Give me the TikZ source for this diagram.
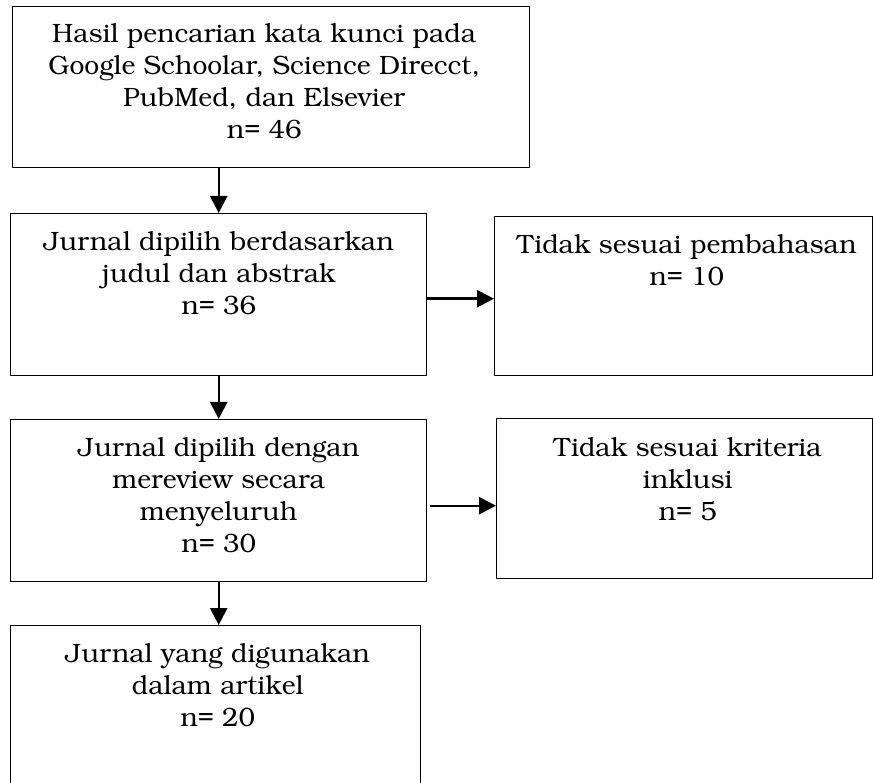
\documentclass[tikz,border=0pt]{standalone}
\usepackage[T1]{fontenc}
\usepackage{bookman}
\usetikzlibrary{
  arrows.meta,
  positioning,  % below=... of ...
}
\tikzset{
  flow box/.style={
    draw,
    line width=1.4pt,
    rectangle,
    anchor=north west,
    inner sep=0pt
  },
  flow text/.style={
    align=center,
    inner sep=0pt,
    font=\fontsize{26.5}{31.8}\selectfont
  },
  flow arrow/.style={
    line width=2.4pt,
    -{Triangle[length=17pt,width=17pt]}
  }
}

\begin{document}
\begin{tikzpicture}[x=1pt,y=-1pt]
\useasboundingbox (0,0) rectangle (873,783);
% boxes
\node[flow box,minimum width=517pt,minimum height=161pt] (b1) at (12,6)   {};
\node[flow box,minimum width=416pt,minimum height=162pt] (b2) at (10,213) {};
\node[flow box,minimum width=378pt,minimum height=159pt] (b3) at (494,216){};
\node[flow box,minimum width=416pt,minimum height=162pt] (b4) at (10,419) {};
\node[flow box,minimum width=376pt,minimum height=160pt] (b5) at (496,418){};
\node[flow box,minimum width=410pt,minimum height=165pt] (b6) at (10,625) {};
% texts
\node[flow text,below=18pt of b1.north,xshift=-7pt] (t1)
  {Hasil pencarian kata kunci pada\\Google Schoolar, Science Direcct,\\PubMed, dan Elsevier\\n= 46};
\node[flow text,below=19pt of b2.north] (t2)
  {Jurnal dipilih berdasarkan\\judul dan abstrak\\n= 36};
\node[flow text,below=19pt of b3.north,xshift=3pt] (t3)
  {Tidak sesuai pembahasan\\n= 10};
\node[flow text,below=19pt of b4.north] (t4)
  {Jurnal dipilih dengan\\mereview secara\\menyeluruh\\n= 30};
\node[flow text,below=20pt of b5.north,xshift=3pt] (t5)
  {Tidak sesuai kriteria\\inklusi\\n= 5};
\node[flow text,below=19pt of b6.north,xshift=2pt] (t6)
  {Jurnal yang digunakan\\dalam artikel\\n= 20};
% arrows
\draw[flow arrow] (b1.south -| b2.north) -- (b2.north);
\draw[flow arrow] (b2.south) -- (b4.north);
\draw[flow arrow] (b4.south) -- (b4.south |- b6.north);
\draw[flow arrow] ([yshift=-4pt]b2.east) -- ([yshift=-4pt]b2.east -| b3.west);
\draw[flow arrow] ([yshift=-5pt,xshift=3pt]b4.east) -- ([yshift=-5pt]b4.east -| b5.west);
\end{tikzpicture}
\end{document}
